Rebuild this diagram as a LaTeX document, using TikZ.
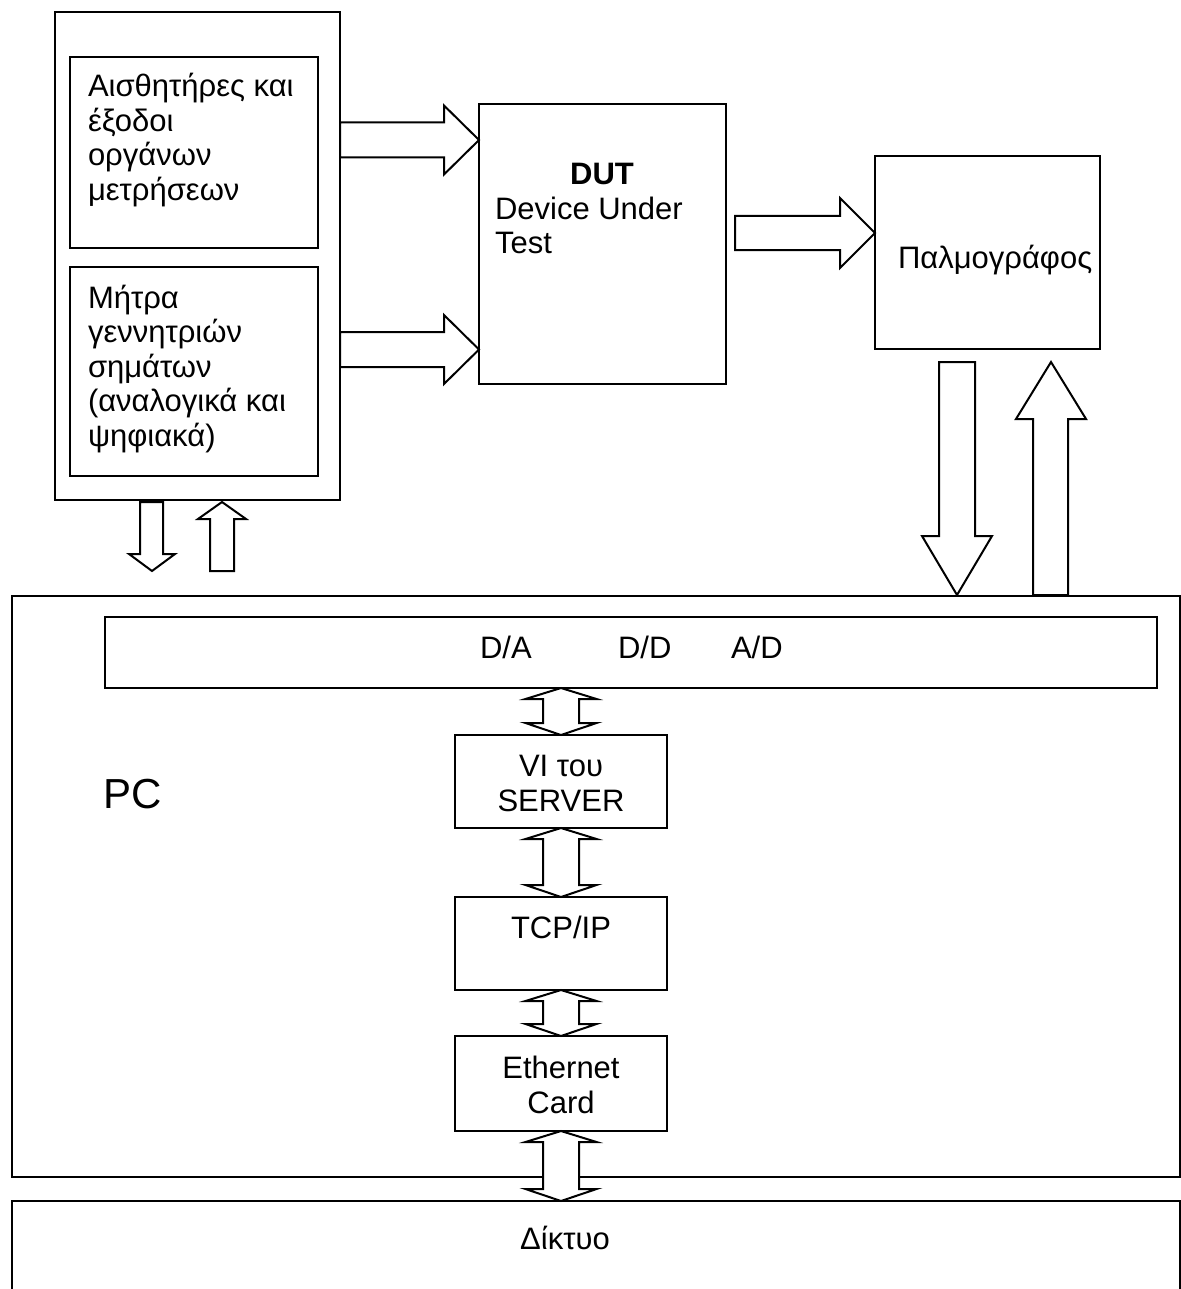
\documentclass[tikz,border=0pt]{standalone}
\usepackage{fontspec}
\setmainfont{Liberation Sans}
\begin{document}
\begin{tikzpicture}[x=0.5pt,y=-0.5pt,
  rect/.style={draw, line width=1pt, anchor=north west, inner sep=0pt, outer sep=0pt},
  blk/.style={draw, fill=white, line width=1pt, line join=miter},
  txt/.style={inner sep=0pt, outer sep=0pt, font=\fontsize{15.5}{17.25}\selectfont, align=left},
  ctxt/.style={inner sep=0pt, outer sep=0pt, font=\fontsize{15.5}{17.25}\selectfont, align=center}]
\useasboundingbox (0,0) rectangle (1181,1289);
% boxes
\node[rect, minimum width=142.5pt, minimum height=244pt] (src) at (55,12) {};
\node[rect, minimum width=124pt, minimum height=95.5pt] (sens) at (70,57) {};
\node[rect, minimum width=124pt, minimum height=104.5pt] (gen) at (70,267) {};
\node[rect, minimum width=123.5pt, minimum height=140pt] (dut) at (479,104) {};
\node[rect, minimum width=112.5pt, minimum height=96.5pt] (scope) at (875,156) {};
\node[rect, minimum width=584pt, minimum height=290.5pt] (pc) at (12,596) {};
\node[rect, minimum width=526pt, minimum height=35.5pt] (bar) at (105,617) {};
\node[rect, minimum width=106pt, minimum height=46.5pt] (vi) at (455,735) {};
\node[rect, minimum width=106pt, minimum height=46.5pt] (tcp) at (455,897) {};
\node[rect, minimum width=106pt, minimum height=47.5pt] (eth) at (455,1036) {};
\coordinate (netbl) at (12,1289);
\coordinate (nettl) at (12,1201);
\coordinate (nettr) at (1180,1201);
\coordinate (netbr) at (1180,1289);
\draw[line width=1pt] (netbl) -- (nettl) -- (nettr) -- (netbr);
% texts (base anchor = baseline of the last line)
\node[txt, anchor=base west] (senst) at (88,200.5) {Αισθητήρες και\\έξοδοι\\οργάνων\\μετρήσεων};
\node[txt, anchor=base west] (gent) at (88,446) {Μήτρα\\γεννητριών\\σημάτων\\(αναλογικά και\\ψηφιακά)};
\node[txt, anchor=base, font=\fontsize{15.5}{17.25}\selectfont\bfseries] (dutt) at (602,185) {DUT};
\node[txt, anchor=base west] (dutd) at (495,254) {Device Under\\Test};
\node[txt, anchor=base west] (scopet) at (898,268) {Παλμογράφος};
\node[txt, anchor=base west] (da) at (480,658) {D/A};
\node[txt, anchor=base west] (dd) at (618,658) {D/D};
\node[txt, anchor=base west] (ad) at (731,658) {A/D};
\node[txt, anchor=base west, font=\fontsize{21}{24}\selectfont] (pct) at (103,808) {PC};
\node[ctxt, anchor=base] (vit) at (561,811) {VI του\\SERVER};
\node[ctxt, anchor=base] (tcpt) at (561,938) {TCP/IP};
\node[ctxt, anchor=base] (etht) at (561,1113) {Ethernet\\Card};
\node[ctxt, anchor=base] (nett) at (565,1249) {Δίκτυο};
% block arrows
\draw[blk] (340,122.5)--(444,122.5)--(444,105.5)--(479,140)--(444,174.5)--(444,157.5)--(340,157.5)--cycle;
\draw[blk] (340,332)--(444,332)--(444,315)--(479,349.5)--(444,384)--(444,367)--(340,367)--cycle;
\draw[blk] (735,216)--(840,216)--(840,198)--(875,233)--(840,268)--(840,250)--(735,250)--cycle;
\draw[blk] (939,362)--(975,362)--(975,536)--(992,536)--(957,595)--(922,536)--(939,536)--cycle;
\draw[blk] (1033,595)--(1033,419)--(1016,419)--(1051,362)--(1086,419)--(1068,419)--(1068,595)--cycle;
\draw[blk] (140,502)--(163,502)--(163,554)--(175,554)--(152,571)--(129,554)--(140,554)--cycle;
\draw[blk] (210,571)--(210,519)--(198,519)--(222,502)--(246,519)--(234,519)--(234,571)--cycle;
\foreach \ya/\yb in {688/735, 828/897, 990/1036, 1131/1201}{
  \pgfmathsetmacro\yc{\ya+11}
  \pgfmathsetmacro\yd{\yb-12}
  \draw[blk] (561,\ya)--(596.5,\yc)--(579,\yc)--(579,\yd)--(596.5,\yd)--(561,\yb)--(525.5,\yd)--(543,\yd)--(543,\yc)--(525.5,\yc)--cycle;
}
\end{tikzpicture}
\end{document}
